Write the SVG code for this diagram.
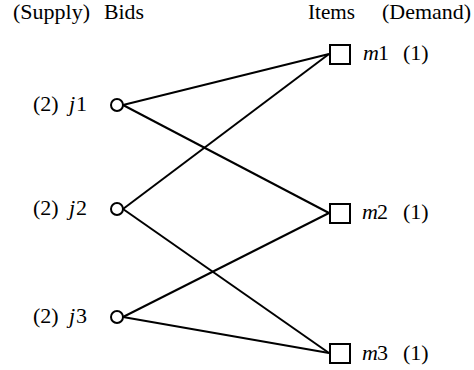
<svg xmlns="http://www.w3.org/2000/svg" width="474" height="370" viewBox="0 0 474 370">
<style>
text{font-family:'Liberation Serif',serif;font-size:22px;fill:#000}
.i{font-style:italic}
.n{fill:#fff;stroke:#000;stroke-width:2}
.e{stroke:#000;stroke-width:2;fill:none}
</style>
<rect width="474" height="370" fill="#fff"/>
<text x="13" y="19" textLength="77" lengthAdjust="spacingAndGlyphs">(Supply)</text>
<text x="104" y="19" textLength="40" lengthAdjust="spacingAndGlyphs">Bids</text>
<text x="308" y="19" textLength="47" lengthAdjust="spacingAndGlyphs">Items</text>
<text x="382" y="19" textLength="89" lengthAdjust="spacingAndGlyphs">(Demand)</text>
<g id="edges">
<line class="e" x1="123" y1="105" x2="329" y2="54"/>
<line class="e" x1="123" y1="105" x2="329" y2="213"/>
<line class="e" x1="123" y1="209" x2="329" y2="54"/>
<line class="e" x1="123" y1="209" x2="329" y2="353"/>
<line class="e" x1="123" y1="317" x2="329" y2="213"/>
<line class="e" x1="123" y1="317" x2="329" y2="353"/>
</g>
<g id="j1"><circle class="n" cx="117" cy="105" r="6"/><text x="33" y="111">(2)</text><text class="i" x="69" y="111">j</text><text x="76" y="111">1</text></g>
<g id="j2"><circle class="n" cx="117" cy="209" r="6"/><text x="33" y="215">(2)</text><text class="i" x="69" y="215">j</text><text x="76" y="215">2</text></g>
<g id="j3"><circle class="n" cx="117" cy="317" r="6"/><text x="33" y="323">(2)</text><text class="i" x="69" y="323">j</text><text x="76" y="323">3</text></g>
<g id="m1"><rect class="n" x="330" y="45" width="20" height="19"/><text class="i" x="363" y="60">m</text><text x="378" y="60">1</text><text x="403" y="60">(1)</text></g>
<g id="m2"><rect class="n" x="330" y="204" width="20" height="19"/><text class="i" x="362" y="219">m</text><text x="377" y="219">2</text><text x="403" y="219">(1)</text></g>
<g id="m3"><rect class="n" x="330" y="344" width="20" height="19"/><text class="i" x="362" y="360">m</text><text x="377" y="360">3</text><text x="403" y="360">(1)</text></g>
</svg>
